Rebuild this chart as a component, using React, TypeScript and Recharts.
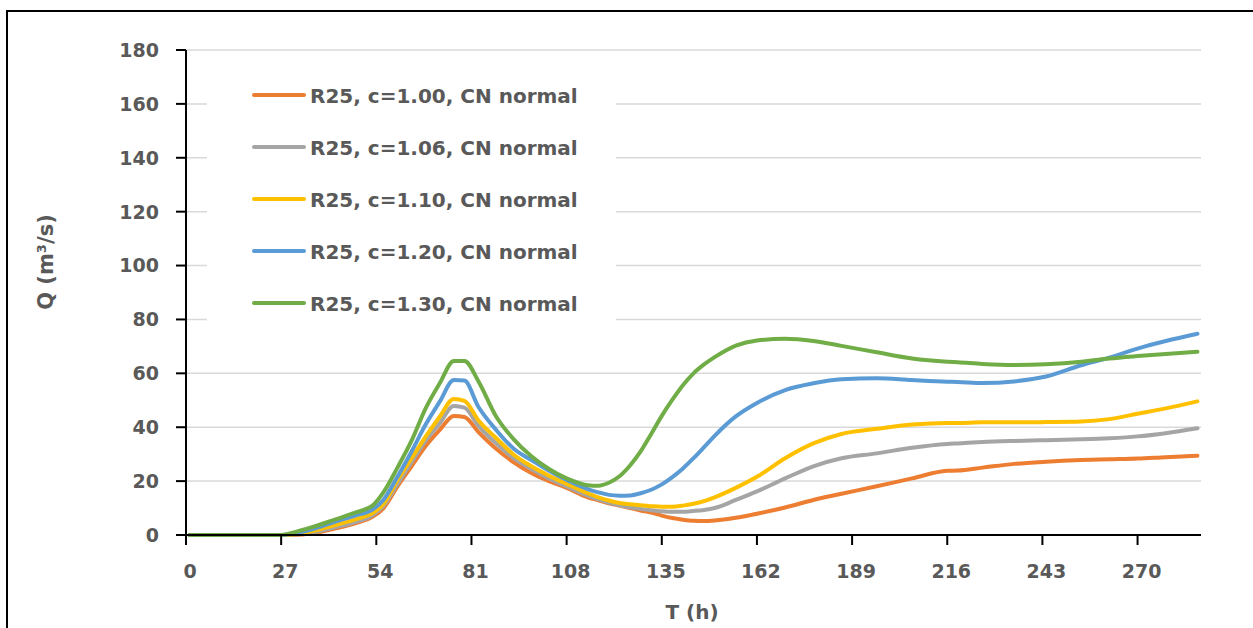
import React from 'react';
import { LineChart, Line, XAxis, YAxis, CartesianGrid, Legend } from 'recharts';

// Time (h)
const hours = [1, 27, 30, 36, 42, 48, 53, 56, 60, 64, 68, 72, 76, 79, 83, 88, 93, 98, 103, 108, 114, 117, 120, 123, 126, 129, 132, 135, 138, 141, 144, 147, 150, 156, 162, 170, 178, 186, 196, 206, 216, 219, 226, 235, 244, 254, 262, 270, 278, 287];

// Discharge Q (m3/s) per scenario
const qC100 = [0, 0, 0, 0.6, 2.3, 4.3, 6.8, 9.9, 18, 25.5, 33, 39, 44.2, 43.8, 38.2, 32, 27, 23, 20, 17.5, 14, 12.9, 11.8, 10.9, 10, 9.1, 8.3, 7.2, 6.3, 5.7, 5.3, 5.2, 5.4, 6.4, 7.9, 10.2, 13, 15.3, 18.1, 21, 23.8, 23.9, 25, 26.4, 27.2, 27.8, 28.1, 28.4, 28.9, 29.4];
const qC106 = [0, 0, 0.1, 1, 2.8, 4.8, 7.4, 10.8, 19, 27, 35, 41.5, 47.9, 47.3, 40.5, 34, 28.5, 24.5, 21, 18, 14.6, 13.2, 12, 11, 10.3, 9.7, 9.2, 8.8, 8.6, 8.6, 8.9, 9.3, 10, 13, 16.2, 21, 25.5, 28.5, 30.3, 32.4, 33.8, 34, 34.5, 34.9, 35.2, 35.5, 35.9, 36.6, 37.8, 39.6];
const qC110 = [0, 0, 0.2, 1.5, 3.6, 5.8, 8.2, 11.5, 20.4, 28.5, 36.5, 43.9, 50.5, 49.8, 42.5, 36, 29.8, 25.5, 22, 19, 15.5, 14, 12.8, 11.9, 11.4, 11, 10.7, 10.5, 10.5, 10.9, 11.6, 12.6, 14, 17.5, 21.6, 28.5, 34, 37.5, 39.4, 41, 41.6, 41.6, 41.8, 41.8, 41.9, 42.1, 43, 45, 47, 49.6];
const qC120 = [0, 0, 0.4, 2.2, 4.8, 7.2, 9.5, 13, 21.6, 31, 41, 49.5, 57.5, 57.3, 47.5, 39, 32, 27.8, 23.8, 20.4, 17, 15.8, 14.9, 14.6, 14.7, 15.5, 16.8, 18.8, 21.5, 24.7, 28.5, 32.6, 36.8, 44, 49, 53.8, 56.3, 57.8, 58.2, 57.5, 56.9, 56.8, 56.4, 57, 58.8, 63, 65.8, 69.2, 72, 74.7];
const qC130 = [0, 0, 0.8, 3, 5.6, 8.3, 11, 15.8, 25, 35, 47, 56.3, 64.6, 64.6, 57, 44, 35.5, 29.2, 24.5, 21, 18.5, 18.3, 19.4, 21.8, 25.8, 31, 37.5, 44.2, 50.2, 55.6, 60, 63.3, 66, 70.3, 72.2, 72.8, 72, 70.2, 67.8, 65.5, 64.3, 64.1, 63.5, 63.1, 63.4, 64.3, 65.5, 66.4, 67.2, 68];

const xTicks = [0, 27, 54, 81, 108, 135, 162, 189, 216, 243, 270];
const yTicks = [0, 20, 40, 60, 80, 100, 120, 140, 160, 180];

const seriesNames = [
  'R25, c=1.00, CN normal',
  'R25, c=1.06, CN normal',
  'R25, c=1.10, CN normal',
  'R25, c=1.20, CN normal',
  'R25, c=1.30, CN normal',
];
const seriesColors = ['#ED7D31', '#A5A5A5', '#FFC000', '#5B9BD5', '#70AD47'];
const seriesValues = [qC100, qC106, qC110, qC120, qC130];

const data = hours.map((t, i) => {
  const row: Record<string, number> = { t };
  seriesValues.forEach((vals, k) => {
    row['s' + k] = vals[i];
  });
  return row;
});

const FONT = '"DejaVu Sans", "Liberation Sans", sans-serif';
const TEXT = '#595959';

const XTick = (props: any) => {
  const { x, y, payload } = props;
  return (
    <text x={x + 4} y={y} dy="0.71em" textAnchor="middle" fontFamily={FONT} fontWeight="bold" fontSize={19} fill={TEXT}>
      {payload.value}
    </text>
  );
};

const YTick = (props: any) => {
  const { x, y, payload } = props;
  return (
    <text x={x} y={y} dy="0.36em" textAnchor="end" fontFamily={FONT} fontWeight="bold" fontSize={19} fill={TEXT}>
      {payload.value}
    </text>
  );
};

const LegendBox = (props: any) => {
  const payload = (props && props.payload && props.payload.length ? props.payload : seriesNames.map((n, i) => ({ value: n, color: seriesColors[i] })));
  return (
    <div style={{ width: 409, height: 285, background: '#fff', position: 'relative' }}>
      {payload.map((p: any, i: number) => (
        <div
          key={i}
          style={{
            position: 'absolute',
            left: 45,
            top: 40 + i * 51.9 - 15,
            height: 30,
            display: 'flex',
            alignItems: 'center',
            whiteSpace: 'nowrap',
          }}
        >
          <div style={{ width: 54, height: 4, borderRadius: 2, background: p.color }} />
          <span style={{ marginLeft: 4, fontFamily: FONT, fontWeight: 'bold', fontSize: 20, color: TEXT, lineHeight: '30px', position: 'relative', top: 1 }}>
            {p.value}
          </span>
        </div>
      ))}
    </div>
  );
};

export default function App() {
  return (
    <div style={{ position: 'fixed', left: 0, top: 0, width: 1253, height: 628, background: '#fff', overflow: 'hidden' }}>
      <div style={{ position: 'absolute', left: 6, top: 10, right: 0, bottom: 0, borderLeft: '2px solid #000', borderTop: '2px solid #000' }} />
      <div style={{ position: 'absolute', left: 0, top: 0 }}>
        <LineChart width={1253} height={628} data={data} margin={{ top: 50, right: 52, bottom: 33, left: 106 }}>
          <CartesianGrid vertical={false} stroke="#d9d9d9" strokeWidth={1.5} />
          <XAxis
            dataKey="t"
            type="number"
            domain={[0, 288]}
            ticks={xTicks}
            interval={0}
            height={60}
            tickSize={10}
            tickMargin={20}
            axisLine={{ stroke: '#000', strokeWidth: 2 }}
            tickLine={{ stroke: '#000', strokeWidth: 2 }}
            tick={<XTick />}
            label={{
              content: () => (
                <text x={692} y={619} textAnchor="middle" fontFamily={FONT} fontWeight="bold" fontSize={20} fill={TEXT}>
                  T (h)
                </text>
              ),
            }}
          />
          <YAxis
            type="number"
            domain={[0, 180]}
            ticks={yTicks}
            interval={0}
            width={80}
            tickSize={10}
            tickMargin={17}
            axisLine={{ stroke: '#000', strokeWidth: 2 }}
            tickLine={{ stroke: '#000', strokeWidth: 2 }}
            tick={<YTick />}
            label={{
              content: () => (
                <text
                  x={46}
                  y={262}
                  transform="rotate(-90, 46, 262)"
                  textAnchor="middle"
                  dominantBaseline="central"
                  fontFamily={FONT}
                  fontWeight="bold"
                  fontSize={21}
                  fill={TEXT}
                >
                  Q (m³/s)
                </text>
              ),
            }}
          />
          <Legend
            layout="vertical"
            align="center"
            verticalAlign="middle"
            content={<LegendBox />}
            wrapperStyle={{ left: 207, top: 55, width: 409, height: 285 }}
          />
          {seriesNames.map((name, k) => (
            <Line
              key={name}
              type="monotone"
              dataKey={'s' + k}
              name={name}
              stroke={seriesColors[k]}
              strokeWidth={4}
              strokeLinecap="round"
              dot={false}
              activeDot={false}
              isAnimationActive={false}
            />
          ))}
        </LineChart>
      </div>
    </div>
  );
}
